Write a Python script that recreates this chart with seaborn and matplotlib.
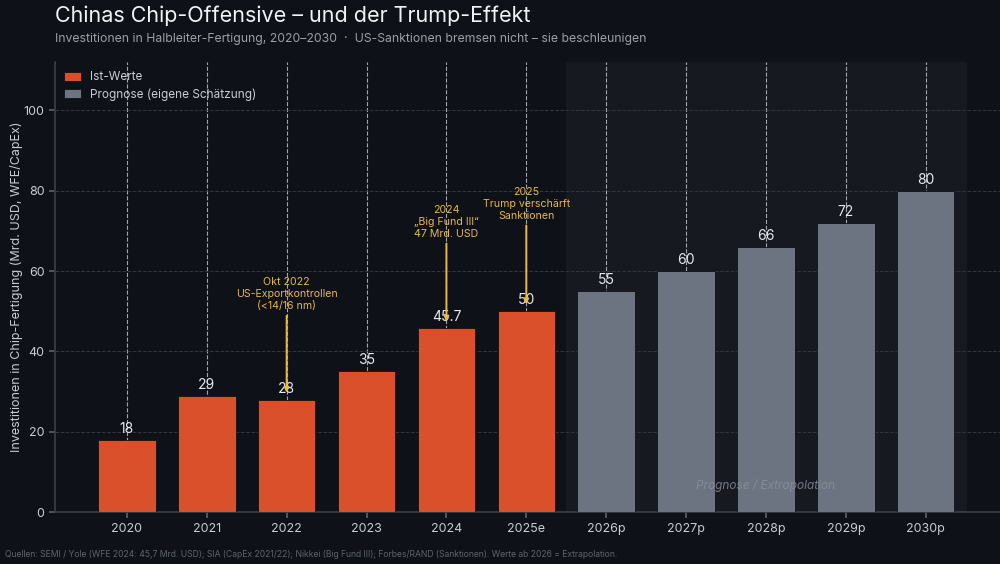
import pandas as pd
import numpy as np
import matplotlib.pyplot as plt
import seaborn as sns

jahre = ['2020', '2021', '2022', '2023', '2024', '2025e',
         '2026p', '2027p', '2028p', '2029p', '2030p']
werte = [18, 29, 28, 35, 45.7, 50, 55, 60, 66, 72, 80]
wert_labels = ['18', '29', '28', '35', '45.7', '50', '55', '60', '66', '72', '80']
typ = ['Ist-Werte'] * 6 + ['Prognose (eigene Schätzung)'] * 5

ereignis_jahr = ['2022', '2024', '2025e']
ereignis_text = ['Okt 2022\nUS-Exportkontrollen\n(<14/16 nm)',
                 '2024\n\u201eBig Fund III\u201c\n47 Mrd. USD',
                 '2025\nTrump verschärft\nSanktionen']
ereignis_hoehe = [50, 68, 72.5]

bg = '#0e1117'
orange = '#d9502b'
grau = '#6b7480'
gold = '#e6b845'
textfarbe = '#c9cdd3'

df = pd.DataFrame({'Jahr': jahre, 'Wert': werte, 'Typ': typ})

sns.set_theme(style='dark')
plt.rcParams['font.family'] = ['Inter', 'DejaVu Sans']

fig = plt.figure(figsize=(10, 5.64), dpi=100, facecolor=bg)
ax = fig.add_axes([0.055, 0.092, 0.945, 0.798])
ax.set_facecolor(bg)

# Prognose-Bereich hinterlegt
ax.axvspan(5.5, 10.5, color='#161a20', zorder=0)

sns.barplot(data=df, x='Jahr', y='Wert', hue='Typ', dodge=False, width=0.72,
            palette={'Ist-Werte': orange, 'Prognose (eigene Schätzung)': grau},
            saturation=1, ax=ax, zorder=3, edgecolor=bg, linewidth=0.6)

for i, (v, lab) in enumerate(zip(werte, wert_labels)):
    ax.text(i, v + 1.0, lab, ha='center', va='bottom', color='#e6e8eb', fontsize=10, zorder=5)

for j, txt, h in zip(ereignis_jahr, ereignis_text, ereignis_hoehe):
    i = jahre.index(j)
    ax.annotate(txt, xy=(i, werte[i] + 1.7), xytext=(i, h), ha='center', va='bottom',
                color=gold, fontsize=7.6, linespacing=1.25, zorder=6,
                arrowprops=dict(arrowstyle='-|>', color=gold, lw=1.4, mutation_scale=7,
                                shrinkA=1, shrinkB=0))

ax.text(8, 6.7, 'Prognose / Extrapolation', ha='center', va='center', style='italic',
        color='#8a919b', fontsize=8.5, alpha=0.8, zorder=5)

ax.set_xlim(-0.9, 10.93)
ax.set_ylim(0, 112)
ax.set_yticks([0, 20, 40, 60, 80, 100])
ax.grid(axis='x', color='#c8ccd2', linestyle='--', linewidth=0.8, alpha=0.8, zorder=1)
ax.grid(axis='y', color='#3a3f47', linestyle='--', linewidth=0.7, alpha=0.8, zorder=1)
ax.set_axisbelow(True)
ax.tick_params(colors=textfarbe, labelsize=9, length=4, color='#5a6068', bottom=True, left=True)
for s in ['top', 'right']:
    ax.spines[s].set_visible(False)
for s in ['left', 'bottom']:
    ax.spines[s].set_color('#3a3f47')
ax.set_xlabel('')
ax.set_ylabel('Investitionen in Chip-Fertigung (Mrd. USD, WFE/CapEx)', color=textfarbe,
              fontsize=9)
ax.yaxis.set_label_coords(-0.034, 0.5)

leg = ax.legend(loc='upper left', frameon=False, fontsize=8.5, labelcolor=textfarbe,
                handlelength=1.4, handleheight=0.8, borderaxespad=0.4, labelspacing=0.4)

fig.text(0.055, 0.99, 'Chinas Chip-Offensive – und der Trump-Effekt', color='#f0f2f5',
         fontsize=15.5, va='top')
fig.text(0.055, 0.942, 'Investitionen in Halbleiter-Fertigung, 2020–2030  ·  US-Sanktionen bremsen nicht – sie beschleunigen',
         color='#9aa0a8', fontsize=8.8, va='top')
fig.text(0.005, 0.016, 'Quellen: SEMI / Yole (WFE 2024: 45,7 Mrd. USD); SIA (CapEx 2021/22); Nikkei (Big Fund III); Forbes/RAND (Sanktionen). Werte ab 2026 = Extrapolation.',
         color='#5e646c', fontsize=6.2, va='center')

fig.savefig('out.png', dpi=100, facecolor=bg)
